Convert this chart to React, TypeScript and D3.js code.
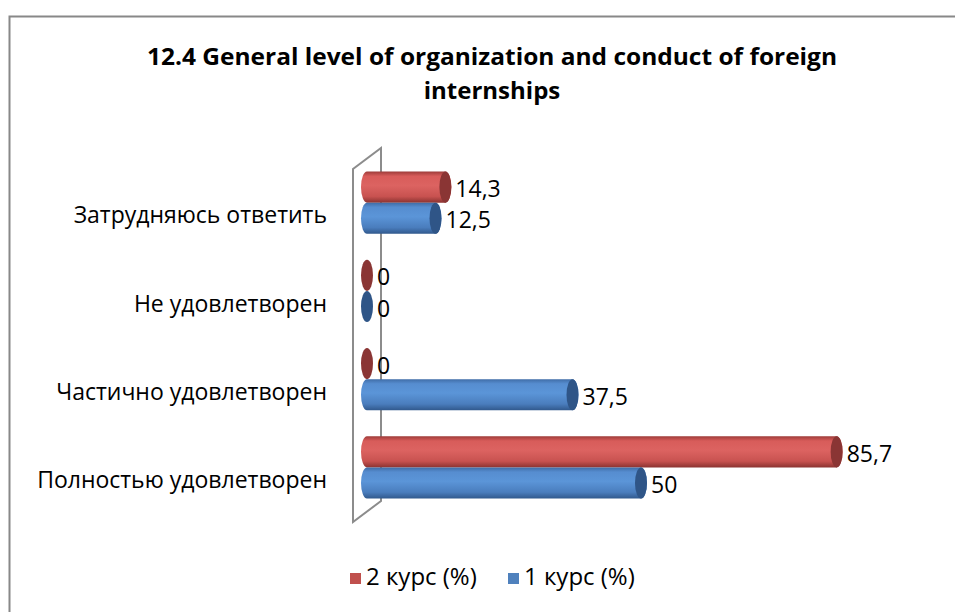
import React from "react";
import * as d3 from "d3";

// categories listed top to bottom, as they appear on the chart
const categories = [
  "Затрудняюсь ответить",
  "Не удовлетворен",
  "Частично удовлетворен",
  "Полностью удовлетворен",
];
const seriesNames = ["2 курс (%)", "1 курс (%)"];
const course2 = [14.3, 0, 0, 85.7];
const course1 = [12.5, 0, 37.5, 50];
const titleLines = [
  "12.4 General level of organization and conduct of foreign",
  "internships",
];

const W = 955;
const H = 612;
const FONT = "'Open Sans', 'DejaVu Sans', sans-serif";

// front plane of the plot and the 3D depth offset of the wall
const plot = { left: 353, top: 169, bottom: 522, right: 901 };
const depth = { dx: 28, dy: -21 };

const seriesStyle = [
  { key: "red", legend: "#c0504d", cap: "#8a3534", stops: ["#9e3c3a", "#d85c5a", "#dc6361", "#c85250", "#8c3331"] },
  { key: "blue", legend: "#4f81bd", cap: "#2f5587", stops: ["#3f6ca6", "#568dd0", "#5b95d8", "#4a7dbd", "#31598d"] },
];

export default function App() {
  const x = d3.scaleLinear().domain([0, 100]).range([plot.left, plot.right]);
  const y = d3.scaleBand<string>().domain(categories).range([plot.top, plot.bottom]);
  const inner = d3
    .scaleBand<string>()
    .domain(seriesNames)
    .range([0, y.bandwidth()])
    .paddingInner(0)
    .paddingOuter(0.42);

  const values = [course2, course1];
  const ox = depth.dx / 2;
  const oy = depth.dy / 2;
  const h = inner.bandwidth();
  const rx = 6;
  const ry = h / 2;

  // horizontal cylinder body: flat top/bottom, rounded right end and left end
  const cylinder = (x0: number, x1: number, top: number) => {
    const bottom = top + h;
    return (
      `M${x0},${top} L${x1},${top} ` +
      `A${rx},${ry} 0 0 1 ${x1},${bottom} L${x0},${bottom} ` +
      `A${rx},${ry} 0 0 1 ${x0},${top} Z`
    );
  };

  return (
    <div style={{ position: "absolute", left: 0, top: 0, width: W, height: H, background: "#fff" }}>
      <svg width={W} height={H} style={{ display: "block" }} fontFamily={FONT}>
        <defs>
          {seriesStyle.map((s) => (
            <linearGradient key={s.key} id={`grad-${s.key}`} x1="0" y1="0" x2="0" y2="1">
              <stop offset="0" stopColor={s.stops[0]} />
              <stop offset="0.15" stopColor={s.stops[1]} />
              <stop offset="0.45" stopColor={s.stops[2]} />
              <stop offset="0.8" stopColor={s.stops[3]} />
              <stop offset="1" stopColor={s.stops[4]} />
            </linearGradient>
          ))}
        </defs>

        {/* chart area border */}
        <rect x={9.5} y={16.5} width={1000} height={700} fill="#fff" stroke="#888" strokeWidth={2} />

        {/* title */}
        <text x={492} y={65} textAnchor="middle" fontSize={24} fontWeight="bold" fill="#000"
          textLength={690} lengthAdjust="spacingAndGlyphs">
          {titleLines[0]}
        </text>
        <text x={492} y={99} textAnchor="middle" fontSize={24} fontWeight="bold" fill="#000">
          {titleLines[1]}
        </text>

        {/* side wall */}
        <path
          d={`M${plot.left},${plot.bottom} L${plot.left},${plot.top} L${plot.left + depth.dx},${plot.top + depth.dy} L${plot.left + depth.dx},${plot.bottom + depth.dy} Z`}
          fill="#fff"
          stroke="#8c8c8c"
          strokeWidth={2}
        />

        {/* category labels */}
        {categories.map((c) => (
          <text key={c} x={327} y={(y(c) ?? 0) + y.bandwidth() / 2 + 4} textAnchor="end"
            dominantBaseline="middle" fontSize={23} fill="#000">
            {c}
          </text>
        ))}

        {/* bars */}
        {categories.map((c, ci) =>
          seriesNames.map((s, si) => {
            const v = values[si][ci];
            const top = (y(c) ?? 0) + (inner(s) ?? 0) + oy;
            const x0 = x(0) + ox;
            const x1 = x(v) + ox;
            const st = seriesStyle[si];
            return (
              <g key={c + s}>
                {v > 0 && <path d={cylinder(x0, x1, top)} fill={`url(#grad-${st.key})`} />}
                <ellipse cx={x1} cy={top + ry} rx={rx} ry={ry} fill={st.cap} />
                <text x={x1 + rx + 4} y={top + ry + 4} dominantBaseline="middle" fontSize={23} fill="#000">
                  {String(v).replace(".", ",")}
                </text>
              </g>
            );
          })
        )}

        {/* legend */}
        {seriesNames.map((s, i) => {
          const lx = i === 0 ? 350 : 508;
          return (
            <g key={s}>
              <rect x={lx} y={573} width={11} height={11} fill={seriesStyle[i].legend} />
              <text x={lx + 16} y={579} dominantBaseline="middle" fontSize={24} fill="#000">
                {s}
              </text>
            </g>
          );
        })}
      </svg>
    </div>
  );
}
